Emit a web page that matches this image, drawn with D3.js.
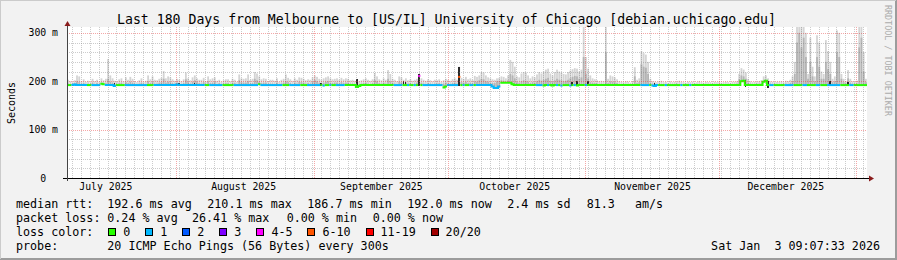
<!DOCTYPE html>
<html>
<head>
<meta charset="utf-8">
<script src="https://cdn.jsdelivr.net/npm/d3@7"></script>
<style>
  body { margin: 0; background: #f2f2f2; }
  svg text { font-family: "DejaVu Sans Mono", monospace; fill: #000; }
</style>
</head>
<body>
<div id="chart"></div>
<script>
// one sample every 12 hours, 360 samples = last 180 days
var startTime = Date.UTC(2025, 6, 7, 9, 7, 33),
    stepMs    = 12 * 3600 * 1000;

// median rtt in ms
var median = [
  192,192,192,193,192,192,192,192,192,192,192,192,192,192,192,195,194,192,192,192,
  192,190,192,192,192,192,192,192,192,192,192,192,192,192,192,192,192,192,192,192,
  192,192,192,192,192,192,192,192,192,193,192,192,192,192,192,192,192,192,192,192,
  192,192,192,192,192,192,192,192,192,192,192,192,192,192,192,192,192,192,192,192,
  192,192,192,192,192,192,194,192,192,192,192,192,192,192,192,192,192,192,192,192,
  192,192,192,192,192,192,192,192,192,192,192,192,192,192,192,191,192,192,192,192,
  192,192,192,192,192,192,192,192,192,192,188,190,192,192,192,192,192,192,192,192,
  192,192,192,192,192,192,192,192,192,192,192,192,192,192,192,192,192,192,211,192,
  192,192,192,192,192,192,192,192,192,187,189,192,192,192,192,192,209,192,192,192,
  192,192,192,192,192,192,192,192,192,192,192,189,186,186,189,197,197,197,197,197,
  194,192,192,192,192,192,192,192,192,192,192,192,192,192,191,192,192,192,191,192,
  192,192,191,192,192,192,191,192,192,191,192,192,192,192,192,192,192,192,192,192,
  192,192,192,192,192,192,192,192,192,192,192,192,192,192,192,192,192,192,192,192,
  192,192,192,191,190,192,192,192,192,192,192,192,192,192,192,192,192,192,192,192,
  192,192,192,192,192,192,192,192,192,192,192,192,192,192,192,192,192,192,192,192,
  192,192,192,200,201,192,192,192,192,192,192,192,192,199,201,192,192,192,192,192,
  192,192,192,192,192,192,192,192,192,192,192,192,192,192,192,192,192,192,192,192,
  192,192,192,192,192,192,192,192,192,192,192,192,192,192,192,192,192,192,192,192
];

// loss bucket per sample (index into lossLabels / lossColors)
var loss = [
  0,0,1,1,1,1,1,1,1,0,0,1,1,1,1,0,0,1,1,1,
  1,1,0,0,0,0,1,1,1,1,1,1,1,1,1,1,0,0,0,1,
  1,1,1,1,1,1,1,1,1,1,1,1,1,1,1,1,1,1,1,1,
  1,1,0,0,1,1,1,1,1,1,0,0,0,0,0,1,1,1,1,1,
  1,1,1,1,1,1,0,1,1,1,1,1,1,1,1,1,1,0,0,0,
  1,1,1,1,1,0,0,0,1,1,1,1,1,1,0,1,0,0,1,0,
  0,1,1,1,1,0,0,0,0,0,0,0,0,0,0,0,0,0,0,0,
  0,0,0,0,0,0,0,1,1,1,1,0,0,1,0,0,1,0,4,0,
  1,1,1,1,1,1,1,1,1,0,0,1,1,1,1,1,5,0,1,0,
  0,1,1,0,1,1,1,1,1,1,1,1,1,1,1,0,0,0,0,0,
  0,0,0,0,0,0,0,0,0,0,0,1,1,1,0,0,1,0,0,0,
  1,0,1,0,0,0,1,0,1,0,0,0,0,1,0,0,0,0,0,0,
  0,0,0,0,0,0,0,0,0,0,0,0,0,0,0,0,0,0,1,1,
  1,1,0,1,1,1,0,0,0,1,0,0,0,0,0,0,1,0,0,0,
  1,0,0,0,0,0,0,0,0,0,0,0,0,0,0,0,0,0,0,0,
  0,0,0,0,0,0,0,0,0,0,0,0,0,0,0,0,1,1,0,0,
  0,0,0,1,1,1,1,0,0,0,0,1,1,0,0,0,0,1,1,0,
  0,0,1,1,1,1,1,1,0,0,0,0,1,1,0,0,0,0,0,0
];

// slowest ping of each sample (outer smoke), ms
var smokeMax = [
  203,200,198,202,212,210,200,204,199,201,198,205,200,203,199,206,202,205,246,212,
  206,201,199,204,206,200,208,203,209,205,200,198,202,206,199,201,212,204,210,203,
  202,205,207,221,206,210,208,204,201,205,203,200,204,218,206,202,208,212,206,203,
  203,207,200,210,204,206,208,201,203,199,202,204,204,200,205,203,199,214,206,205,
  206,214,203,205,219,216,210,204,206,205,200,203,203,201,206,199,203,205,214,207,
  204,201,206,203,208,207,205,202,204,203,208,212,209,205,203,206,208,210,206,204,
  205,206,203,207,204,206,205,202,203,201,203,200,202,204,206,203,201,204,217,210,
  204,202,206,203,223,215,205,203,200,210,208,203,206,202,204,201,203,205,215,206,
  203,201,204,202,200,203,202,204,199,202,205,203,201,204,206,203,230,207,205,209,
  204,206,203,211,209,212,219,218,212,208,206,204,203,206,207,210,209,206,212,244,
  240,230,210,208,216,219,218,212,206,210,208,214,219,216,220,224,226,216,212,219,
  224,220,218,215,214,219,222,225,227,226,220,224,330,250,226,212,206,204,202,200,
  201,200,330,205,212,210,208,204,200,199,198,200,199,197,200,229,203,206,262,258,
  255,240,205,200,199,198,200,201,198,199,197,200,198,199,198,201,199,198,197,199,
  198,199,197,198,200,198,197,199,198,198,197,199,198,199,197,198,199,198,197,199,
  199,200,215,227,224,218,205,200,198,199,198,200,202,210,212,206,200,199,198,199,
  199,200,198,201,200,203,210,240,330,330,325,330,300,215,290,230,210,295,280,220,
  215,285,262,240,205,210,305,300,215,205,200,223,205,200,199,201,320,330,260,205
];

// inner smoke (middle pings), ms
var smokeMid = [
  195,194,194,196,200,198,194,196,194,195,194,197,194,196,194,197,195,196,205,199,
  197,194,194,196,197,194,198,196,199,197,194,194,195,197,194,194,200,196,199,195,
  195,197,198,205,197,199,198,196,194,197,195,194,196,204,198,195,199,202,198,196,
  195,198,194,200,196,197,199,194,196,194,195,196,196,194,197,196,194,202,198,197,
  197,200,195,196,205,202,199,196,197,197,194,195,195,194,197,194,195,197,200,198,
  196,194,197,195,199,198,197,195,196,195,199,203,200,197,195,197,199,200,197,196,
  197,197,195,198,196,197,197,195,195,194,195,194,195,196,197,195,194,196,203,200,
  196,195,197,195,205,200,197,195,194,199,198,195,197,195,196,194,195,197,200,197,
  195,194,196,195,194,195,195,196,194,195,197,195,194,196,197,195,210,198,197,199,
  196,197,195,200,199,202,205,204,200,199,197,196,196,200,201,202,201,199,202,215,
  212,206,198,197,200,202,201,199,196,198,197,200,203,201,203,205,207,201,199,202,
  205,203,202,200,201,203,206,209,211,210,205,208,250,215,206,198,197,196,195,194,
  195,194,260,196,200,199,198,196,194,194,194,194,194,194,194,210,196,198,235,230,
  228,215,197,195,194,194,194,194,194,194,194,194,194,194,194,194,194,194,194,194,
  194,194,194,194,194,194,194,194,194,194,194,194,194,194,194,194,194,194,194,194,
  194,195,204,212,210,205,197,195,194,194,194,195,196,200,202,198,195,194,194,194,
  194,194,194,195,194,196,200,215,280,300,270,290,250,205,240,210,200,250,230,205,
  205,240,225,215,198,200,260,250,205,198,195,206,197,195,194,195,270,290,220,198
];

// darkest smoke streaks: sample index, low and high ms
var darkIdx = [21, 50, 57, 114, 130, 151, 152, 158, 176, 227, 229, 234, 264, 305, 315, 343, 351];
var darkLo  = [190,190,190,190,187,190,190,190,190,191,191,190,188,188,187,190,190];
var darkHi  = [196,197,196,197,205,200,199,215,230,199,201,200,196,202,201,200,199];

var lossLabels = ["0", "1", "2", "3", "4-5", "6-10", "11-19", "20/20"];
var lossColors = ["#26ff00", "#00b8ff", "#0059ff", "#7e00ff", "#ff00ff", "#ff5500", "#ff0000", "#a10000"];

var rttStats  = ["192.6 ms avg", "210.1 ms max", "186.7 ms min", "192.0 ms now", "2.4 ms sd", "81.3", "am/s"];
var lossStats = ["0.24 % avg", "26.41 % max", "0.00 % min", "0.00 % now"];

var titleText = "Last 180 Days from Melbourne to [US/IL] University of Chicago [debian.uchicago.edu]";
var probeText = "20 ICMP Echo Pings (56 Bytes) every 300s";
var dateText  = "Sat Jan  3 09:07:33 2026";

(function draw() {
  var W = 897, H = 260;
  var plot = {left: 67, right: 867, top: 28, bottom: 178};
  var endTime = startTime + median.length * stepMs;

  function timeAt(i) { return new Date(startTime + i * stepMs); }

  var x = d3.scaleUtc()
      .domain([new Date(startTime), new Date(endTime)])
      .range([plot.left, plot.right]);

  var y = d3.scaleLinear()
      .domain([0, 310])
      .range([plot.bottom, plot.top]);

  var svg = d3.select("#chart").append("svg")
      .attr("width", W)
      .attr("height", H);

  // background + 3d frame
  svg.append("rect").attr("width", W).attr("height", H).attr("fill", "#f2f2f2");
  svg.append("path").attr("d", "M0,259H897M896,0V260").attr("stroke", "#9c9c9c").attr("stroke-width", 2).attr("fill", "none");
  svg.append("path").attr("d", "M0,0.5H896M0.5,0V259").attr("stroke", "#cbcbcb").attr("fill", "none");

  // canvas
  svg.append("rect")
      .attr("x", plot.left).attr("y", plot.top - 1)
      .attr("width", plot.right - plot.left).attr("height", plot.bottom - plot.top + 1)
      .attr("fill", "#fff");

  svg.append("clipPath").attr("id", "clip")
    .append("rect")
      .attr("x", plot.left).attr("y", plot.top - 1)
      .attr("width", plot.right - plot.left).attr("height", plot.bottom - plot.top + 1);

  var g = svg.append("g").attr("clip-path", "url(#clip)");

  function slotX(i) { return x(timeAt(i)); }
  function slotW(i) { return x(timeAt(i + 1)) - x(timeAt(i)); }

  //smoke bars are a bit thinner than a slot so single pings read as spikes
  var barW = 1.8;

  //outer smoke
  g.append("g")
    .selectAll("rect").data(smokeMax).enter().append("rect")
      .attr("x", function(d, i) { return slotX(i) + (slotW(i) - barW) / 2; })
      .attr("width", barW)
      .attr("y", function(d) { return y(d); })
      .attr("height", function(d, i) { return Math.max(0, y(median[i]) - y(d)); })
      .attr("fill", "#d4d4d4");

  //inner smoke
  g.append("g")
    .selectAll("rect").data(smokeMid).enter().append("rect")
      .attr("x", function(d, i) { return slotX(i) + (slotW(i) - barW) / 2; })
      .attr("width", barW)
      .attr("y", function(d) { return y(d); })
      .attr("height", function(d, i) { return Math.max(0, y(median[i]) - y(d)); })
      .attr("fill", "#b4b4b4");

  //dark streaks
  g.append("g").attr("shape-rendering", "crispEdges")
    .selectAll("rect").data(darkIdx).enter().append("rect")
      .attr("x", function(d) { return slotX(d); })
      .attr("width", function(d) { return Math.max(1, slotW(d) - 0.6); })
      .attr("y", function(d, k) { return y(darkHi[k]); })
      .attr("height", function(d, k) { return y(darkLo[k]) - y(darkHi[k]); })
      .attr("fill", "#2a2a2a");

  // median line, split in runs of same loss bucket (no joins between buckets)
  var runs = [];
  median.forEach(function(v, i) {
    if (!runs.length || loss[i] !== loss[i - 1]) runs.push({loss: loss[i], pts: []});
    runs[runs.length - 1].pts.push([i, v]);
  });
  runs.forEach(function(r) {
    var last = r.pts[r.pts.length - 1];
    r.pts.push([last[0] + 1, last[1]]);
  });

  var line = d3.line()
      .x(function(d) { return slotX(d[0]); })
      .y(function(d) { return y(d[1]); })
      .curve(d3.curveStepAfter);

  g.append("g").selectAll("path").data(runs).enter().append("path")
      .attr("d", function(r) { return line(r.pts); })
      .attr("fill", "none")
      .attr("stroke", function(r) { return lossColors[r.loss]; })
      .attr("stroke-width", 2);

  // grid (drawn over the graph, like rrdtool)
  var grid = svg.append("g").attr("shape-rendering", "crispEdges").attr("fill", "none");

  var minorY = d3.range(20, 310, 20).filter(function(v) { return v % 100; });
  var majorY = [100, 200, 300];

  var minorX = d3.range(0, 90).map(function(k) { return new Date(Date.UTC(2025, 6, 8, 12) + k * 2 * 864e5); })
      .filter(function(d) { return d < endTime; });
  var majorX = d3.utcMonth.range(new Date(startTime), new Date(endTime));

  grid.selectAll(".hmin").data(minorY).enter().append("line")
      .attr("x1", plot.left).attr("x2", plot.right)
      .attr("y1", function(d) { return Math.round(y(d)) + 0.5; })
      .attr("y2", function(d) { return Math.round(y(d)) + 0.5; })
      .attr("stroke", "rgba(128,128,128,0.4)").attr("stroke-dasharray", "1,1");

  grid.selectAll(".vmin").data(minorX).enter().append("line")
      .attr("y1", plot.top - 1).attr("y2", plot.bottom)
      .attr("x1", function(d) { return Math.round(x(d)) + 0.5; })
      .attr("x2", function(d) { return Math.round(x(d)) + 0.5; })
      .attr("stroke", "rgba(128,128,128,0.4)").attr("stroke-dasharray", "1,1");

  grid.selectAll(".hmaj").data(majorY).enter().append("line")
      .attr("x1", plot.left).attr("x2", plot.right)
      .attr("y1", function(d) { return Math.round(y(d)) + 0.5; })
      .attr("y2", function(d) { return Math.round(y(d)) + 0.5; })
      .attr("stroke", "rgba(230,60,60,0.45)").attr("stroke-dasharray", "1,1");

  grid.selectAll(".vmaj").data(majorX).enter().append("line")
      .attr("y1", plot.top - 1).attr("y2", plot.bottom)
      .attr("x1", function(d) { return Math.round(x(d)) + 0.5; })
      .attr("x2", function(d) { return Math.round(x(d)) + 0.5; })
      .attr("stroke", "rgba(230,60,60,0.45)").attr("stroke-dasharray", "1,1");

  // axes
  var yAxis = svg.append("g")
      .attr("transform", "translate(" + plot.left + ",0)")
      .call(d3.axisLeft(y)
        .tickValues([0, 100, 200, 300])
        .tickSize(0)
        .tickPadding(9)
        .tickFormat(function(d) { return d === 0 ? "0\u00a0\u00a0" : d + " m"; }));
  yAxis.select(".domain").remove();
  yAxis.selectAll("text").attr("font-size", "9.8px").attr("font-family", "DejaVu Sans Mono");

  var labelDates = d3.utcMonth.range(new Date(Date.UTC(2025, 6, 1)), new Date(endTime))
      .map(function(d) { return d3.utcDay.offset(d, 15); })
      .filter(function(d) { return d > startTime && d < endTime; });

  var xAxis = svg.append("g")
      .attr("transform", "translate(0," + plot.bottom + ")")
      .call(d3.axisBottom(x)
        .tickValues(labelDates)
        .tickSize(0)
        .tickPadding(5.5)
        .tickFormat(d3.utcFormat("%B %Y")));
  xAxis.select(".domain").remove();
  xAxis.selectAll("text").attr("font-size", "9.8px").attr("font-family", "DejaVu Sans Mono");

  svg.append("path")
      .attr("d", "M" + (plot.left - 4) + "," + (plot.bottom + 0.5) + "H" + (plot.right + 3))
      .attr("stroke", "#000").attr("fill", "none").attr("shape-rendering", "crispEdges");
  svg.append("path")
      .attr("d", "M" + (plot.left + 0.5) + "," + (plot.bottom + 3) + "V" + (plot.top - 2))
      .attr("stroke", "#444").attr("fill", "none").attr("shape-rendering", "crispEdges");

  // arrows
  svg.append("path")
      .attr("d", "M" + (plot.left + 0.5) + "," + (plot.top - 7) + "L" + (plot.left + 3.5) + "," + (plot.top - 2) + "L" + (plot.left - 2.5) + "," + (plot.top - 2) + "Z")
      .attr("fill", "#8a1c1c");
  svg.append("path")
      .attr("d", "M" + (plot.right + 7) + "," + (plot.bottom + 0.5) + "L" + (plot.right + 2) + "," + (plot.bottom - 2.5) + "L" + (plot.right + 2) + "," + (plot.bottom + 3.5) + "Z")
      .attr("fill", "#8a1c1c");

  // title
  svg.append("text")
      .attr("x", 446.5).attr("y", 23.5)
      .attr("text-anchor", "middle")
      .attr("font-size", "13.2px")
      .text(titleText);

  // vertical unit label
  svg.append("text")
      .attr("transform", "translate(15,103) rotate(-90)")
      .attr("text-anchor", "middle")
      .attr("font-size", "10px")
      .text("Seconds");

  // watermark
  svg.append("text")
      .attr("transform", "translate(885,5) rotate(90)")
      .attr("font-size", "8.4px")
      .style("fill", "#ababab")
      .text("RRDTOOL / TOBI OETIKER");

  // legend
  var legend = svg.append("g").attr("font-size", "11.7px");
  var rows = [208.3, 222.1, 235.9, 249.7];

  legend.append("text").attr("x", 16).attr("y", rows[0]).text("median rtt:");
  var rttX = [107.3, 207.3, 307.3, 407.3, 507.3, 586.7, 635];
  rttStats.forEach(function(s, k) {
    legend.append("text").attr("x", rttX[k]).attr("y", rows[0]).text(s);
  });

  legend.append("text").attr("x", 16).attr("y", rows[1]).text("packet loss:");
  var lossX = [107.3, 192, 286.7, 372.7];
  lossStats.forEach(function(s, k) {
    legend.append("text").attr("x", lossX[k]).attr("y", rows[1]).text(s);
  });

  legend.append("text").attr("x", 16).attr("y", rows[2]).text("loss color:");
  var bx = 108.3;
  lossLabels.forEach(function(lbl, k) {
    legend.append("rect")
        .attr("x", Math.round(bx) + 0.5).attr("y", 228.5)
        .attr("width", 7).attr("height", 7)
        .attr("fill", lossColors[k]).attr("stroke", "#000");
    legend.append("text").attr("x", bx + 15).attr("y", rows[2]).text(lbl);
    bx += 30 + lbl.length * 7.02;
  });

  legend.append("text").attr("x", 16).attr("y", rows[3]).text("probe:");
  legend.append("text").attr("x", 107.3).attr("y", rows[3]).text(probeText);
  legend.append("text").attr("x", 880).attr("y", rows[3]).attr("text-anchor", "end")
      .style("white-space", "pre").text(dateText);
})();
</script>
</body>
</html>
